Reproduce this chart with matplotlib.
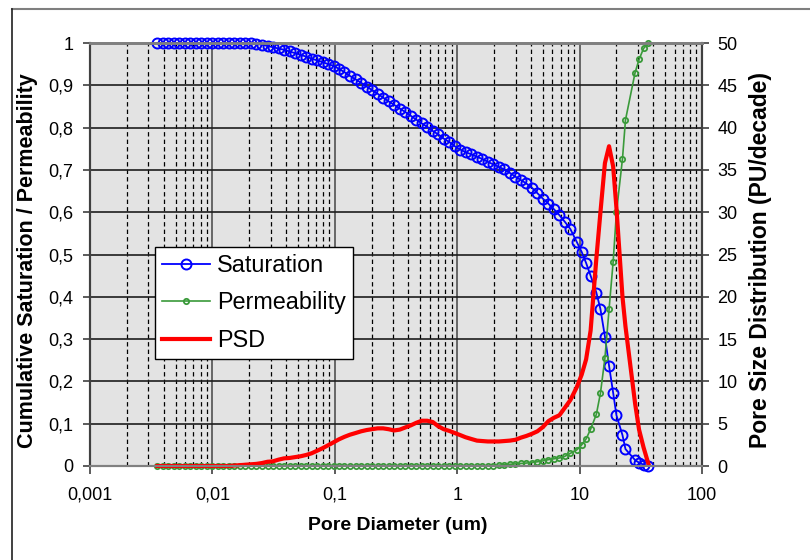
import matplotlib
matplotlib.use('Agg')
import matplotlib.pyplot as plt
from matplotlib.lines import Line2D
from matplotlib.ticker import FixedLocator, FixedFormatter, LogLocator, NullFormatter

plt.rcParams['font.family'] = 'Liberation Sans'

# pore diameter (um), one value per pressure step
diameter = [
    0.00355, 0.00394, 0.00437, 0.00484, 0.00537, 0.00596, 0.00661, 0.00733, 0.00813, 0.00902,
    0.0100, 0.0111, 0.0123, 0.0136, 0.0151, 0.0168, 0.0186, 0.0206, 0.0229, 0.0254,
    0.0282, 0.0312, 0.0347, 0.0384, 0.0427, 0.0473, 0.0525, 0.0582, 0.0646, 0.0716,
    0.0794, 0.0881, 0.0977, 0.108, 0.120, 0.133, 0.148, 0.164, 0.182, 0.201,
    0.224, 0.248, 0.275, 0.305, 0.339, 0.376, 0.417, 0.462, 0.513, 0.569,
    0.631, 0.700, 0.776, 0.861, 0.955, 1.06, 1.17, 1.30, 1.45, 1.60,
    1.78, 1.97, 2.19, 2.43, 2.69, 2.99, 3.31, 3.67, 4.07, 4.52,
    5.01, 5.56, 6.17, 6.84, 7.59, 8.41, 9.47, 10.4, 11.3, 12.3,
    13.7, 14.8, 16.1, 17.4, 18.8, 20.0, 22.4, 23.7, 28.4, 30.6,
    33.3, 36.4,
]

saturation = [
    1.0, 1.0, 1.0, 1.0, 1.0, 1.0, 1.0, 1.0, 1.0, 1.0,
    1.0, 1.0, 1.0, 1.0, 1.0, 1.0, 1.0, 0.999, 0.998, 0.996,
    0.993, 0.990, 0.987, 0.984, 0.980, 0.976, 0.972, 0.968, 0.963, 0.959,
    0.955, 0.950, 0.946, 0.939, 0.931, 0.922, 0.914, 0.906, 0.897, 0.889,
    0.880, 0.871, 0.862, 0.854, 0.845, 0.837, 0.828, 0.819, 0.810, 0.802,
    0.792, 0.784, 0.774, 0.766, 0.756, 0.748, 0.742, 0.737, 0.731, 0.726,
    0.719, 0.713, 0.707, 0.701, 0.693, 0.684, 0.676, 0.668, 0.658, 0.645,
    0.632, 0.620, 0.607, 0.593, 0.577, 0.560, 0.530, 0.506, 0.480, 0.450,
    0.410, 0.371, 0.306, 0.237, 0.173, 0.120, 0.073, 0.040, 0.014, 0.008,
    0.003, 0.0,
]

permeability = [
    0.0, 0.0, 0.0, 0.0, 0.0, 0.0, 0.0, 0.0, 0.0, 0.0,
    0.0, 0.0, 0.0, 0.0, 0.0, 0.0, 0.0, 0.0, 0.0, 0.0,
    0.0, 0.0, 0.0, 0.0, 0.0, 0.0, 0.0, 0.0, 0.0, 0.0,
    0.0, 0.0, 0.0, 0.0, 0.0, 0.0, 0.0, 0.0, 0.0, 0.0,
    0.0, 0.0, 0.0, 0.0, 0.0, 0.0, 0.0, 0.0, 0.0, 0.0,
    0.0, 0.0, 0.0, 0.0, 0.0, 0.0, 0.0, 0.0, 0.0, 0.0,
    0.0, 0.001, 0.002, 0.003, 0.004, 0.005, 0.006, 0.007, 0.008, 0.010,
    0.012, 0.015, 0.017, 0.019, 0.023, 0.030, 0.038, 0.050, 0.064, 0.087,
    0.122, 0.172, 0.255, 0.370, 0.483, 0.600, 0.726, 0.818, 0.930, 0.961,
    0.987, 1.0,
]

# pore size distribution, PU/decade
psd = [
    0, 0, 0, 0, 0, 0, 0, 0, 0, 0,
    0, 0, 0, 0, 0.05, 0.1, 0.15, 0.2, 0.25, 0.35,
    0.5, 0.55, 0.75, 0.9, 0.95, 1.05, 1.15, 1.3, 1.5, 1.8,
    2.1, 2.45, 2.8, 3.15, 3.45, 3.7, 3.9, 4.1, 4.25, 4.35,
    4.45, 4.45, 4.35, 4.2, 4.3, 4.55, 4.8, 5.1, 5.35, 5.35,
    5.2, 4.7, 4.35, 4.15, 3.9, 3.65, 3.4, 3.2, 3.0, 2.95,
    2.9, 2.9, 2.9, 2.95, 3.0, 3.1, 3.35, 3.55, 3.8, 4.1,
    4.6, 5.3, 5.7, 6.0, 6.9, 7.8, 9.3, 10.8, 12.6, 16.0,
    24.5, 30.0, 35.8, 37.8, 35.4, 30.5, 20.0, 16.5, 7.4, 4.3,
    2.2, 0.3,
]

x_ticks = [0.001, 0.01, 0.1, 1, 10, 100]
x_tick_labels = ['0,001', '0,01', '0,1', '1', '10', '100']
left_ticks = [0, 0.1, 0.2, 0.3, 0.4, 0.5, 0.6, 0.7, 0.8, 0.9, 1.0]
left_tick_labels = ['0', '0,1', '0,2', '0,3', '0,4', '0,5', '0,6', '0,7', '0,8', '0,9', '1']
right_ticks = [0, 5, 10, 15, 20, 25, 30, 35, 40, 45, 50]

W, H = 810, 560
fig = plt.figure(figsize=(W / 100, H / 100), dpi=100)
ax = fig.add_axes([90 / W, 94 / H, 612 / W, 423 / H])
ax.set_facecolor('#e3e3e3')
ax.set_axisbelow(True)

ax.set_xscale('log')
ax.set_xlim(0.001, 100)
ax.set_ylim(0, 1)
ax.xaxis.set_major_locator(FixedLocator(x_ticks))
ax.xaxis.set_major_formatter(FixedFormatter(x_tick_labels))
ax.xaxis.set_minor_locator(LogLocator(base=10, subs=range(2, 10), numticks=20))
ax.xaxis.set_minor_formatter(NullFormatter())
ax.yaxis.set_major_locator(FixedLocator(left_ticks))
ax.yaxis.set_major_formatter(FixedFormatter(left_tick_labels))

ax.grid(which='major', axis='y', color='#1e1e1e', lw=1.2)
ax.grid(which='major', axis='x', color='#666666', lw=1.4)
ax.grid(which='minor', axis='x', color='black', lw=0.9, linestyle=(0, (3.5, 2.5)))

ax.tick_params(axis='x', which='major', direction='out', length=6, width=1.2,
               color='#404040', labelsize=13, pad=9)
ax.tick_params(axis='x', which='minor', length=0)
ax.tick_params(axis='y', direction='out', length=5, width=1.2,
               color='#404040', labelsize=13, pad=7)

ax.plot(diameter, saturation, color='#0000ff', lw=1.3, marker='o', ms=7.2,
        mfc='none', mew=1.4, label='Saturation', clip_on=False, zorder=3)
ax.plot(diameter, permeability, color='#3a9a3a', lw=1.2, marker='o', ms=3.8,
        mfc='none', mew=1.3, label='Permeability', clip_on=False, zorder=3)

ax2 = ax.twinx()
ax2.set_ylim(0, 50)
ax2.yaxis.set_major_locator(FixedLocator(right_ticks))
ax2.tick_params(axis='y', direction='out', length=5, width=1.2,
                color='#404040', labelsize=13, pad=6)
ax2.plot(diameter, psd, color='#ff0000', lw=3, label='PSD', clip_on=False)

for a in (ax, ax2):
    a.spines['top'].set_color('#808080')
    a.spines['top'].set_linewidth(2)
    a.spines['bottom'].set_color('#808080')
    a.spines['bottom'].set_linewidth(1.5)
    a.spines['left'].set_color('#404040')
    a.spines['left'].set_linewidth(1.5)
    a.spines['right'].set_color('#404040')
    a.spines['right'].set_linewidth(1.5)

h1, l1 = ax.get_legend_handles_labels()
h2, l2 = ax2.get_legend_handles_labels()
leg = ax2.legend(h1 + h2, l1 + l2, loc='upper left',
                 bbox_to_anchor=(155 / W, 1 - 247 / H), bbox_transform=fig.transFigure,
                 fontsize=16.8, fancybox=False, edgecolor='black', framealpha=1,
                 borderpad=0.3, handlelength=2.06, handletextpad=0.3,
                 labelspacing=0.62, borderaxespad=0, numpoints=1)
leg.get_frame().set_linewidth(1.0)

fig.text(398 / W, 1 - 525 / H, 'Pore Diameter (um)', ha='center', va='center',
         fontsize=14, fontweight='bold')
fig.text(28 / W, 1 - 261 / H, 'Cumulative Saturation / Permeability', ha='center',
         va='center', rotation=90, fontsize=15.5, fontweight='bold')
fig.text(760 / W, 1 - 260 / H, 'Pore Size Distribution (PU/decade)', ha='center',
         va='center', rotation=90, fontsize=16.5, fontweight='bold')

# chart frame
fig.add_artist(Line2D([11.5 / W, 1], [1 - 9 / H, 1 - 9 / H], transform=fig.transFigure,
                      color='#7f7f7f', lw=1.5))
fig.add_artist(Line2D([11.5 / W, 11.5 / W], [0, 1 - 9 / H], transform=fig.transFigure,
                      color='#202020', lw=1.2))

fig.savefig('out.png', dpi=100)
